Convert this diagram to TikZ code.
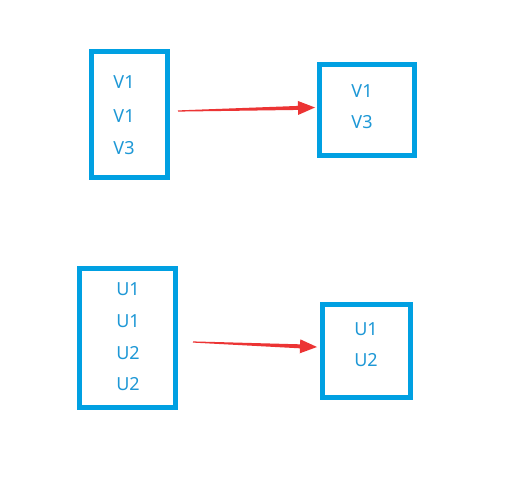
\documentclass[tikz,border=0pt]{standalone}
\usepackage{fontspec}
\setmainfont{Noto Sans}
\usetikzlibrary{calc}
\definecolor{boxblue}{RGB}{0,160,226}
\definecolor{txtblue}{RGB}{30,152,214}
\definecolor{arrred}{RGB}{236,52,52}
\tikzset{
  box/.style={draw=boxblue, line width=5pt, minimum width=#1, inner sep=0pt},
  lbl/.style={text=txtblue, font=\fontsize{18}{21}\selectfont, inner sep=0pt},
}
\newcommand{\taper}[2]{%
  \fill[arrred] ($(#1)!0.6pt!90:(#2)$) -- ($($(#2)!17pt!(#1)$)!2pt!90:(#2)$)
    -- ($($(#2)!17pt!(#1)$)!7pt!90:(#2)$) -- (#2)
    -- ($($(#2)!17pt!(#1)$)!7pt!-90:(#2)$) -- ($($(#2)!17pt!(#1)$)!2pt!-90:(#2)$)
    -- ($(#1)!0.6pt!-90:(#2)$) -- cycle;}
\begin{document}
\begin{tikzpicture}[x=1pt,y=-1pt]
\useasboundingbox[fill=white] (0,0) rectangle (510,484);
% boxes
\node[box=76pt, minimum height=126pt] (b1) at (129.5,114.5) {};
\node[box=95pt, minimum height=91pt] (b2) at (366.5,110) {};
\node[box=96pt, minimum height=139pt] (b3) at (127.5,338) {};
\node[box=88pt, minimum height=93pt] (b4) at (366.5,351) {};
% labels
\node[lbl] (t11) at (124,82) {V1};
\node[lbl] (t12) at (124,116) {V1};
\node[lbl] (t13) at (124,148) {V3};
\node[lbl] (t21) at (362,91) {V1};
\node[lbl] (t22) at (362,122) {V3};
\node[lbl] (t31) at (128,289) {U1};
\node[lbl] (t32) at (128,321) {U1};
\node[lbl] (t33) at (128,353) {U2};
\node[lbl] (t34) at (128,384) {U2};
\node[lbl] (t41) at (366,329) {U1};
\node[lbl] (t42) at (366,360) {U2};
% arrows
\coordinate (a1s) at (178,111);
\coordinate (a1e) at (315,107.5);
\coordinate (a2s) at (193,342);
\coordinate (a2e) at (317,347);
\taper{a1s}{a1e}
\taper{a2s}{a2e}
\end{tikzpicture}
\end{document}
